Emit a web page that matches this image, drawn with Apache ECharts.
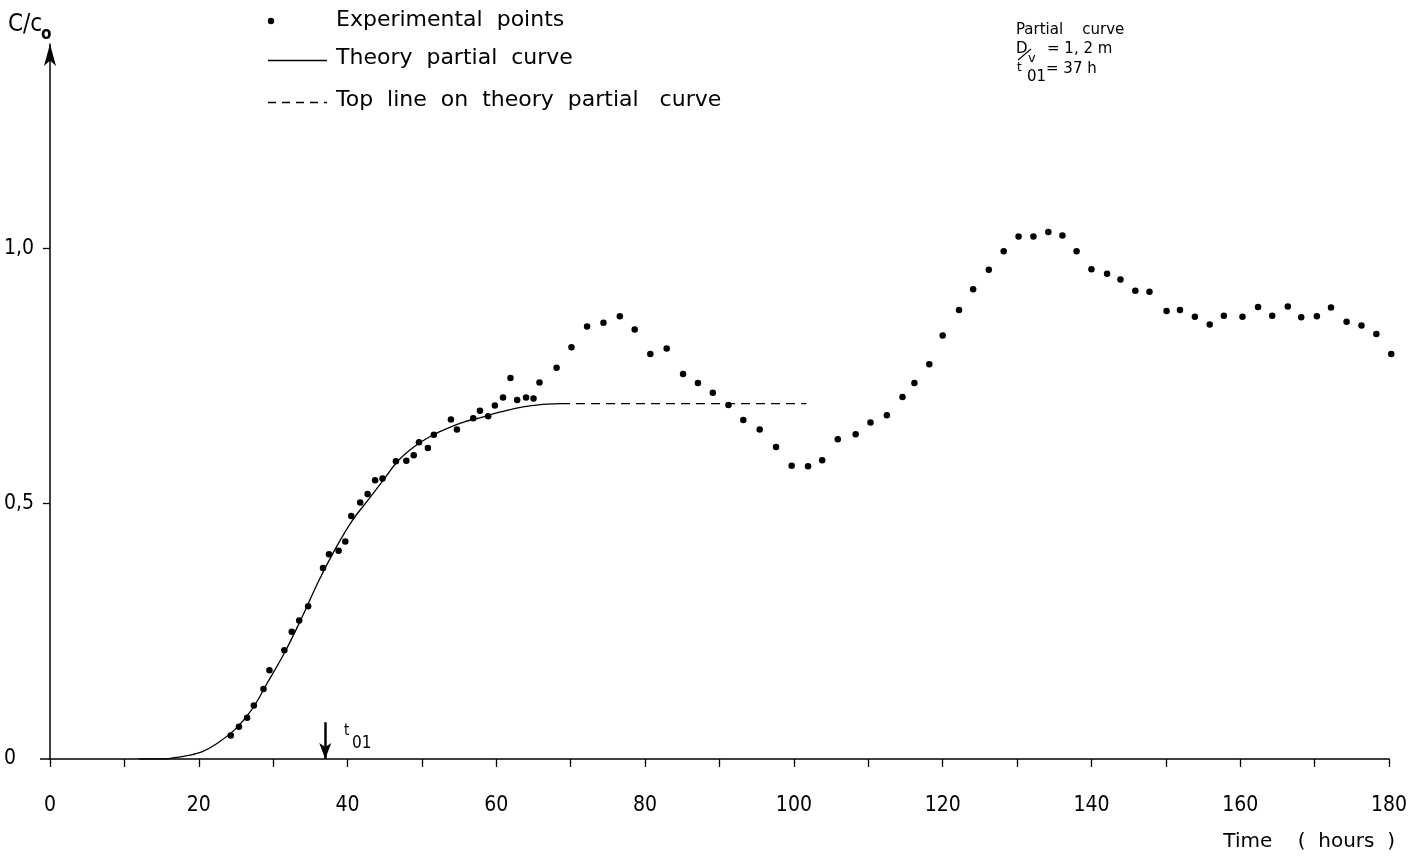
<!DOCTYPE html>
<html>
<head>
    <meta charset="utf-8"/>
    <title>C/C0 - partial curve</title>
    <script src="https://cdn.jsdelivr.net/npm/echarts@6/dist/echarts.min.js"></script>
    <style>
        html, body { margin: 0; padding: 0; background: #fff; }
        #main { width: 1425px; height: 859px; }
    </style>
</head>
<body>
<div id="main"></div>
<script type="text/javascript">
    // measured points (hours, C/C0)
    var expHours = [24.3, 25.4, 26.5, 27.4, 28.7, 29.5, 31.5, 32.5, 33.5, 34.7, 36.7, 37.5, 38.8, 39.7, 40.5, 41.7, 42.7, 43.7,
        44.7, 46.5, 47.9, 48.9, 49.6, 50.8, 51.6, 53.9, 54.7, 56.9, 57.8, 58.9, 59.8, 60.9, 61.9, 62.8, 64.0, 65.0, 65.8,
        68.1, 70.1, 72.2, 74.4, 76.6, 78.6, 80.7, 82.9, 85.1, 87.1, 89.1, 91.2, 93.2, 95.4, 97.6, 99.7, 101.9, 103.8,
        105.9, 108.3, 110.3, 112.5, 114.6, 116.2, 118.2, 120.0, 122.2, 124.1, 126.2, 128.2, 130.2, 132.2, 134.2, 136.1,
        138.0, 140.0, 142.1, 143.9, 145.9, 147.8, 150.1, 151.9, 153.9, 155.9, 157.8, 160.3, 162.4, 164.3, 166.4, 168.2,
        170.3, 172.2, 174.3, 176.3, 178.3, 180.3];
    var expValues = [0.046, 0.063, 0.081, 0.105, 0.137, 0.174, 0.213, 0.249, 0.271, 0.299, 0.374, 0.401, 0.408, 0.426, 0.476, 0.502, 0.519, 0.546,
        0.549, 0.583, 0.584, 0.595, 0.620, 0.609, 0.635, 0.665, 0.645, 0.667, 0.682, 0.671, 0.692, 0.708, 0.746, 0.703, 0.708, 0.706, 0.737,
        0.766, 0.806, 0.847, 0.854, 0.867, 0.841, 0.793, 0.804, 0.754, 0.736, 0.717, 0.693, 0.664, 0.645, 0.611, 0.574, 0.573, 0.585,
        0.626, 0.636, 0.659, 0.673, 0.709, 0.736, 0.773, 0.829, 0.879, 0.920, 0.958, 0.994, 1.023, 1.023, 1.032, 1.025,
        0.994, 0.959, 0.950, 0.939, 0.917, 0.915, 0.877, 0.879, 0.866, 0.851, 0.868, 0.866, 0.885, 0.868, 0.886, 0.865,
        0.867, 0.884, 0.856, 0.849, 0.832, 0.793];

    // theory partial curve
    var theoryHours = [12, 15.5, 16.5, 18.6, 20.4, 22.4, 24.8, 27.1, 29.3, 31.6, 33.8, 36.1, 38.3, 40.5, 42.8, 44.5,
        46.8, 49.0, 51.3, 53.5, 55.7, 58.0, 60.2, 62.4, 64.7, 66.9, 68.7];
    var theoryValues = [0, 0, 0.002, 0.007, 0.014, 0.030, 0.057, 0.096, 0.151, 0.210, 0.275, 0.348, 0.410, 0.464, 0.508, 0.540,
        0.584, 0.612, 0.633, 0.648, 0.660, 0.669, 0.678, 0.686, 0.692, 0.695, 0.696];

    // top line (dashed)
    var topLineHours = [68.7, 101.7];
    var topLineValues = [0.696, 0.696];

    var t01 = 37;
    var xTickValues = [0, 10, 20, 30, 40, 50, 60, 70, 80, 90, 100, 110, 120, 130, 140, 150, 160, 170, 180];
    var xLabelValues = [0, 20, 40, 60, 80, 100, 120, 140, 160, 180];
    var yTickValues = [0.5, 1.0];
    var yLabelValues = [0, 0.5, 1.0];

    function pairs(xs, ys) {
        var out = [];
        for (var i = 0; i < xs.length; i++) out.push([xs[i], ys[i]]);
        return out;
    }

    var FONT = '"DejaVu Sans Condensed", "Liberation Sans Narrow", "DejaVu Sans", sans-serif';
    var WIDE = '"DejaVu Sans", sans-serif';

    var myChart = echarts.init(document.getElementById('main'));
    var option = {
        animation: false,
        backgroundColor: '#fff',
        textStyle: { fontFamily: FONT, color: '#000' },
        grid: {
            left: 50, right: 36, top: 44, bottom: 100,
            containLabel: false, outerBoundsMode: 'none'
        },
        xAxis: {
            type: 'value', min: 0, max: 180, interval: 10,
            axisLine: { show: true, onZero: false, lineStyle: { color: '#000', width: 1.5 } },
            axisTick: { show: true, length: 8, customValues: xTickValues, lineStyle: { color: '#000', width: 1.3 } },
            axisLabel: {
                customValues: xLabelValues, margin: 36, fontSize: 21, color: '#000', fontFamily: FONT
            },
            splitLine: { show: false }
        },
        yAxis: {
            type: 'value', min: 0, max: 1.4, interval: 0.5,
            axisLine: {
                show: true, onZero: false, symbol: ['none', 'arrow'], symbolSize: [9, 22], symbolOffset: [0, 0],
                lineStyle: { color: '#000', width: 1.5 }
            },
            axisTick: { show: true, length: 7, customValues: yTickValues, lineStyle: { color: '#000', width: 1.3 } },
            axisLabel: {
                customValues: yLabelValues, align: 'left', margin: 46, fontSize: 21, color: '#000', fontFamily: FONT,
                formatter: function (v) {
                    if (v === 0) return '0';
                    return v.toFixed(1).replace('.', ',');
                }
            },
            splitLine: { show: false }
        },
        series: [
            {
                name: 'Experimental points',
                type: 'scatter',
                symbol: 'circle',
                symbolSize: 6.5,
                clip: false,
                itemStyle: { color: '#000', opacity: 1 },
                data: pairs(expHours, expValues),
                markLine: {
                    silent: true,
                    symbol: ['none', 'arrow'],
                    symbolSize: [9, 16],
                    label: { show: false },
                    lineStyle: { color: '#000', width: 2.5, type: 'solid', opacity: 1 },
                    data: [[{ coord: [t01, 0.072] }, { coord: [t01, 0] }]]
                }
            },
            {
                name: 'Theory partial curve',
                type: 'line',
                smooth: 0.35,
                showSymbol: false,
                lineStyle: { color: '#000', width: 1.3 },
                data: pairs(theoryHours, theoryValues)
            },
            {
                name: 'Top line on theory partial curve',
                type: 'line',
                showSymbol: false,
                lineStyle: { color: '#000', width: 1.2, type: [9, 6] },
                data: pairs(topLineHours, topLineValues)
            }
        ],
        graphic: [
            // x axis runs a little past the y axis
            { type: 'line', shape: { x1: 40, y1: 759, x2: 50, y2: 759 }, style: { stroke: '#000', lineWidth: 1.5 } },
            // y axis title
            { type: 'text', left: 8, top: 13, style: { text: 'C/c', font: '24px ' + FONT, fill: '#000' } },
            { type: 'text', left: 41, top: 26, style: { text: 'o', font: 'bold 17px ' + FONT, fill: '#000' } },
            // legend
            { type: 'circle', shape: { cx: 271, cy: 21, r: 3.2 }, style: { fill: '#000' } },
            { type: 'text', left: 336, top: 9, style: { text: 'Experimental  points', font: '22px ' + WIDE, fill: '#000' } },
            { type: 'line', shape: { x1: 268, y1: 60.5, x2: 327, y2: 60.5 }, style: { stroke: '#000', lineWidth: 1.3 } },
            { type: 'text', left: 336, top: 47, style: { text: 'Theory  partial  curve', font: '22px ' + WIDE, fill: '#000' } },
            { type: 'line', shape: { x1: 268, y1: 102.5, x2: 327, y2: 102.5 }, style: { stroke: '#000', lineWidth: 1.3, lineDash: [8, 6] } },
            { type: 'text', left: 336, top: 89, style: { text: 'Top  line  on  theory  partial   curve', font: '22px ' + WIDE, fill: '#000' } },
            // t01 marker label
            { type: 'text', left: 344, top: 724, style: { text: 't', font: '15px ' + FONT, fill: '#000' } },
            { type: 'text', left: 352, top: 735, style: { text: '01', font: '17px ' + FONT, fill: '#000' } },
            // parameters
            { type: 'text', left: 1016, top: 23, style: { text: 'Partial    curve', font: '15px ' + WIDE, fill: '#000' } },
            { type: 'text', left: 1016, top: 42, style: { text: 'D', font: '15px ' + WIDE, fill: '#000' } },
            { type: 'line', shape: { x1: 1018, y1: 60, x2: 1031, y2: 49 }, style: { stroke: '#000', lineWidth: 1.1 } },
            { type: 'text', left: 1028, top: 52, style: { text: 'v', font: '13px ' + WIDE, fill: '#000' } },
            { type: 'text', left: 1047, top: 42, style: { text: '= 1, 2 m', font: '15px ' + WIDE, fill: '#000' } },
            { type: 'text', left: 1017, top: 62, style: { text: 't', font: '12px ' + WIDE, fill: '#000' } },
            { type: 'text', left: 1027, top: 70, style: { text: '01', font: '15px ' + WIDE, fill: '#000' } },
            { type: 'text', left: 1046, top: 62, style: { text: '= 37 h', font: '15px ' + WIDE, fill: '#000' } },
            // x axis title
            { type: 'text', right: 30, top: 832, style: { text: 'Time    (  hours  )', font: '20px ' + WIDE, fill: '#000' } }
        ]
    };
    myChart.setOption(option);
</script>
</body>
</html>
